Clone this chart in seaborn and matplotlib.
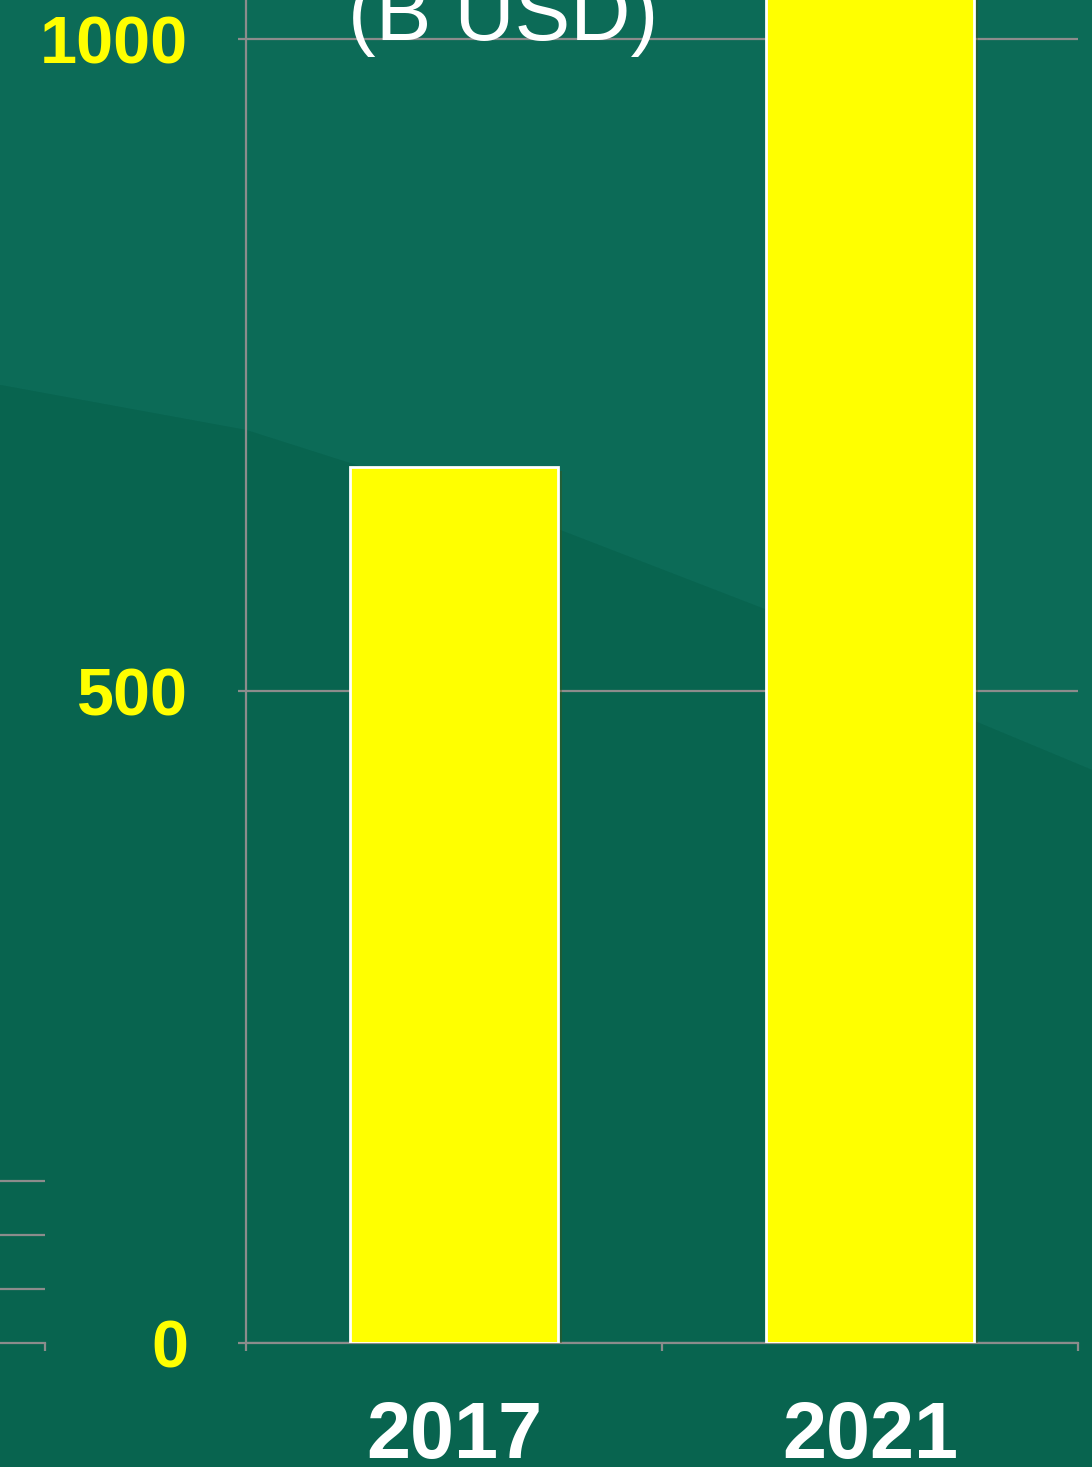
import matplotlib
matplotlib.use("Agg")
import matplotlib.pyplot as plt
import matplotlib.patheffects as pe
from matplotlib.patches import Polygon
import seaborn as sns
import pandas as pd

# Data (2021 bar runs off the top of the picture)
years = ["2017", "2021"]
values = [672, 1130]
y_ticks = [0, 500, 1000]

W, H = 1092, 1467
fig = plt.figure(figsize=(W / 100, H / 100), dpi=100)
fig.patch.set_facecolor("#0a6753")

# Background: slightly lighter upper band with a curved edge
bg = fig.add_axes([0, 0, 1, 1], zorder=-10)
bg.set_xlim(0, W)
bg.set_ylim(H, 0)
bg.axis("off")
curve = [(0, 385), (246, 430), (560, 530), (767, 610), (900, 690), (W, 770)]
bg.add_patch(Polygon([(0, 0), (W, 0)] + curve[::-1], closed=True, color="#0c6b57", lw=0))
bg.add_patch(Polygon(curve + [(W, H), (0, H)], closed=True, color="#08644f", lw=0))

grey = "#8c8c8c"
left, right, base = 246, 1078, 1343
px_per_unit = 1.304
ax = fig.add_axes([left / W, (H - base) / H, (right - left) / W, base / H])
ax.set_facecolor("none")

df = pd.DataFrame({"year": years, "value": values})
sns.barplot(data=df, x="year", y="value", color="#ffff00", saturation=1,
            width=0.5, edgecolor="white", linewidth=2, ax=ax, zorder=3)
for bar in ax.patches:
    bar.set_path_effects([pe.SimplePatchShadow(offset=(3, -3), alpha=0.35), pe.Normal()])

ax.set_ylim(0, base / px_per_unit)
ax.set_xlim(-0.5, 1.5)
ax.set_yticks(y_ticks)
ax.set_yticklabels([str(t) for t in y_ticks])
ax.set_xlabel("")
ax.set_ylabel("")
ax.grid(axis="y", color=grey, lw=1.6, zorder=0)
ax.set_axisbelow(True)

for s in ["top", "right"]:
    ax.spines[s].set_visible(False)
for s in ["left", "bottom"]:
    ax.spines[s].set_color(grey)
    ax.spines[s].set_linewidth(1.6)

ax.tick_params(axis="y", length=5.8, width=1.6, color=grey, pad=36,
               labelcolor="#ffff00", labelsize=48)
ax.tick_params(axis="x", which="major", length=0, pad=41,
               labelcolor="white", labelsize=57)
ax.set_xticks([-0.5, 0.5, 1.5], minor=True)
ax.tick_params(axis="x", which="minor", length=5.8, width=1.6, color=grey)
for lab in ax.get_yticklabels() + ax.get_xticklabels():
    lab.set_fontfamily("Liberation Sans")
    lab.set_fontweight("bold")

# Edge of the neighbouring chart on the left
ax2 = fig.add_axes([-0.1, (H - base) / H, 0.1 + 45 / W, base / H])
ax2.set_facecolor("none")
ax2.set_xlim(0, 1)
ax2.set_ylim(0, base / 54)
ax2.set_yticks([1, 2, 3])
ax2.set_yticklabels([])
ax2.tick_params(axis="y", length=0)
ax2.grid(axis="y", color=grey, lw=1.6)
ax2.set_xticks([1])
ax2.set_xticklabels([])
ax2.tick_params(axis="x", length=5.8, width=1.6, color=grey)
for s in ["top", "right", "left"]:
    ax2.spines[s].set_visible(False)
ax2.spines["bottom"].set_color(grey)
ax2.spines["bottom"].set_linewidth(1.6)

fig.text(503 / W, 1 - 40 / H, "(B USD)", ha="center", va="baseline",
         fontsize=60, color="white", family="Liberation Sans")

fig.savefig("out.png", dpi=100, facecolor=fig.get_facecolor())
